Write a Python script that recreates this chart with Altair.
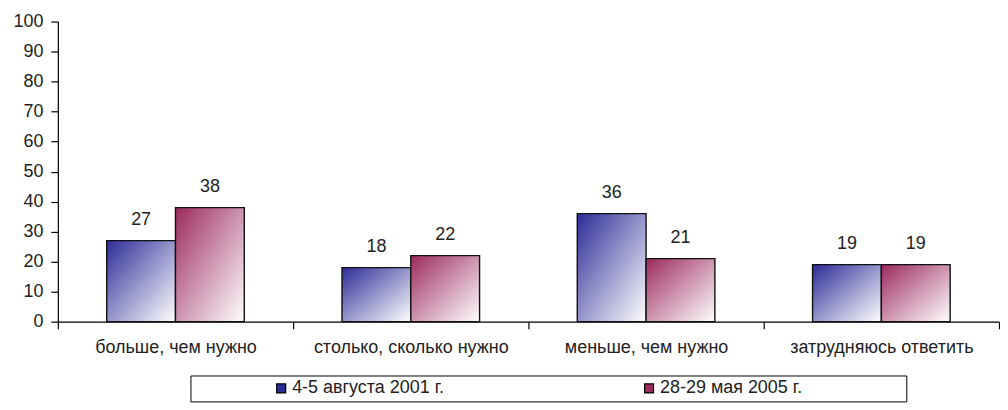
import altair as alt
import pandas as pd

categories = ["больше, чем нужно", "столько, сколько нужно", "меньше, чем нужно", "затрудняюсь ответить"]
series_names = ["4-5 августа 2001 г.", "28-29 мая 2005 г."]
values_2001 = [27, 18, 36, 19]
values_2005 = [38, 22, 21, 19]
y_ticks = [0, 10, 20, 30, 40, 50, 60, 70, 80, 90, 100]
series_colors = ["#2c2c98", "#9c2a5e"]

rows = []
for c, v in zip(categories, values_2001):
    rows.append({"cat": c, "series": series_names[0], "val": v})
for c, v in zip(categories, values_2005):
    rows.append({"cat": c, "series": series_names[1], "val": v})
df = pd.DataFrame(rows)

FONT = "Liberation Sans"

x_enc = alt.X("cat:N", sort=categories, title=None,
              scale=alt.Scale(paddingInner=0, paddingOuter=0),
              axis=alt.Axis(labelAngle=0, tickBand="extent", tickSize=7, tickColor="black",
                            domainColor="black", domainWidth=1.2, tickWidth=1.2,
                            labelFont=FONT, labelFontSize=18, labelColor="#222",
                            labelPadding=10, labelLimit=400, grid=False))
xoff_enc = alt.XOffset("series:N", sort=series_names,
                       scale=alt.Scale(domain=series_names, paddingInner=0, paddingOuter=0.71))
y_enc = alt.Y("val:Q", title=None,
              scale=alt.Scale(domain=[0, 100], nice=False),
              axis=alt.Axis(values=y_ticks, tickSize=7, tickColor="black", domainColor="black",
                            domainWidth=1.2, tickWidth=1.2, labelFont=FONT, labelFontSize=18,
                            labelColor="#222", labelPadding=8, grid=False))

base = alt.Chart(df)

layers = []
for name, col in zip(series_names, series_colors):
    grad = alt.Gradient(gradient="linear",
                        stops=[alt.GradientStop(color=col, offset=0),
                               alt.GradientStop(color="#ffffff", offset=1)],
                        x1=0, y1=0, x2=1, y2=1)
    layers.append(
        base.transform_filter(alt.datum.series == name)
        .mark_bar(fill=grad, stroke="#111111", strokeWidth=1.4)
        .encode(x=x_enc, xOffset=xoff_enc, y=y_enc)
    )

labels = base.mark_text(baseline="bottom", dy=-12, font=FONT, fontSize=18, color="#222").encode(
    x=x_enc, xOffset=xoff_enc, y=y_enc, text="val:Q")

pad_spaces = " " * 20 + "\u200b"
legend_layer = base.mark_square(opacity=0, size=1).encode(
    x=x_enc, xOffset=xoff_enc, y=y_enc,
    fill=alt.Fill("series:N", sort=series_names,
                  scale=alt.Scale(domain=series_names, range=series_colors),
                  legend=alt.Legend(orient="none", legendX=133, legendY=355, direction="horizontal",
                                    title=None, padding=4, symbolType="square", symbolSize=81,
                                    symbolStrokeColor="black", symbolStrokeWidth=1.2, symbolOpacity=1,
                                    symbolOffset=78, labelOffset=2, columnPadding=118,
                                    labelFont=FONT, labelFontSize=18, labelColor="#222",
                                    labelLimit=600, strokeColor="black", fillColor="white",
                                    labelExpr="datum.label == '" + series_names[1] + "' ? datum.label + '" + pad_spaces + "' : datum.label"))
)

chart = alt.layer(*layers, labels, legend_layer).properties(
    width=944, height=301,
    padding={"left": 4, "top": 4, "right": 0, "bottom": 0},
    background="white",
).configure_view(stroke=None)

chart.save("out.html", embed_options={"renderer": "svg", "actions": False})
